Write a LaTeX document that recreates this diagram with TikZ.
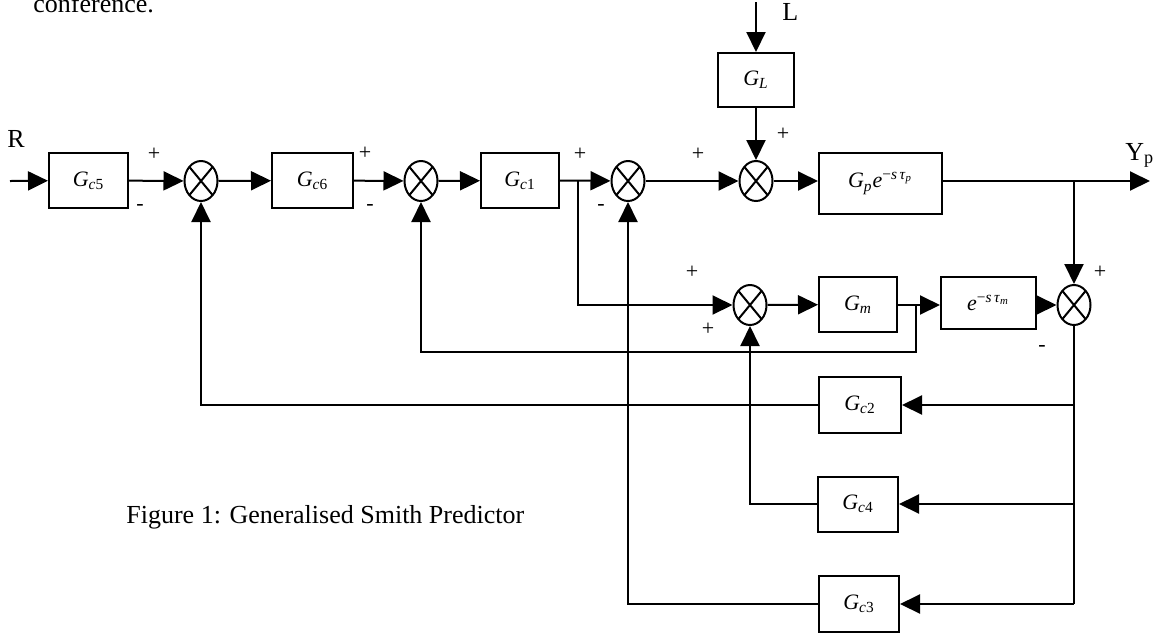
\documentclass[tikz,border=0pt]{standalone}
\usepackage{fontspec}
\setmainfont{Liberation Serif}
\usetikzlibrary{arrows.meta,shapes.geometric}

\tikzstyle{block} = [rectangle, draw, line width=1pt, inner sep=0pt, font=\fontsize{11pt}{13pt}\selectfont]
\tikzstyle{sum} = [ellipse, draw, line width=1pt, inner sep=0pt, minimum width=16.5pt, minimum height=20pt,
  path picture={\draw[line width=1pt] (path picture bounding box.north west) -- (path picture bounding box.south east)
    (path picture bounding box.north east) -- (path picture bounding box.south west);}]
\tikzstyle{sign} = [inner sep=0pt, font=\fontsize{11pt}{13pt}\selectfont]
\tikzstyle{label} = [inner sep=0pt, anchor=base west, font=\fontsize{13pt}{15pt}\selectfont]
\tikzstyle{line} = [line width=1pt, -{Triangle[length=10pt,width=9.5pt]}]

\begin{document}
\begin{tikzpicture}[x=0.5pt, y=-0.5pt]
\useasboundingbox (0,0) rectangle (1153,634);
% forward path
\node [block, minimum width=39.5pt, minimum height=27.5pt] (Gc5) at (88.5,180.5) {\textit{G}\textsubscript{\textit{c}5}};
\node [sum] (S1) at (201,181) {};
\node [block, minimum width=40.5pt, minimum height=27.5pt] (Gc6) at (312.5,180.5) {\textit{G}\textsubscript{\textit{c}6}};
\node [sum] (S2) at (421,181) {};
\node [block, minimum width=39pt, minimum height=27.5pt] (Gc1) at (520,180.5) {\textit{G}\textsubscript{\textit{c}1}};
\node [sum] (S3) at (628,181) {};
\node [sum] (S4) at (756,181) {};
\node [block, minimum width=38pt, minimum height=27pt] (GL) at (756,80) {\textit{G}\textsubscript{\textit{L}}};
\node [block, minimum width=61.5pt, minimum height=30.5pt] (Gp) at (880.5,183.5) {\textit{G}\textsubscript{\textit{p}}\textit{e}\textsuperscript{−\textit{s}\,\textit{τ}\textsubscript{\textit{p}}}};
% model path
\node [sum] (S6) at (750,305) {};
\node [block, minimum width=39pt, minimum height=27.5pt] (Gm) at (858,304.5) {\textit{G}\textsubscript{\textit{m}}};
\node [block, minimum width=47.5pt, minimum height=26pt] (Dm) at (988.5,303) {\textit{e}\textsuperscript{−\textit{s}\,\textit{τ}\textsubscript{\textit{m}}}};
\node [sum] (S5) at (1074,305) {};
% feedback blocks
\node [block, minimum width=41pt, minimum height=28pt] (Gc2) at (860,405) {\textit{G}\textsubscript{\textit{c}2}};
\node [block, minimum width=40pt, minimum height=27.5pt] (Gc4) at (858,504) {\textit{G}\textsubscript{\textit{c}4}};
\node [block, minimum width=40pt, minimum height=28pt] (Gc3) at (859,604) {\textit{G}\textsubscript{\textit{c}3}};
% free ends and branch points
\coordinate (In) at (10,181);
\coordinate (Ltop) at (756,2);
\coordinate (Out) at (1150,181);
\coordinate (B1) at (578,181);
\coordinate (B2) at (1074,181);
\coordinate (B3) at (916,305);
\coordinate (Fm) at (916,352);
\coordinate (B4) at (1074,405);
\coordinate (B5) at (1074,504);
\coordinate (B6) at (1074,604);
% texts
\node [label] (txtconf) at (33,12) {conference.};
\node [label] (txtR) at (7,147) {R};
\node [label] (txtL) at (782,20) {L};
\node [label] (txtY) at (1125,160) {Y\textsubscript{p}};
\node [label] (cap) at (126,523) {Figure 1: Generalised Smith Predictor};
% signs
\node [sign] (p1) at (154,154) {+};
\node [sign] (m1) at (140,207) {-};
\node [sign] (p2) at (365,153) {+};
\node [sign] (m2) at (370,207) {-};
\node [sign] (p3) at (580,154) {+};
\node [sign] (m3) at (601,207) {-};
\node [sign] (p4) at (698,154) {+};
\node [sign] (p5) at (783,134) {+};
\node [sign] (p6) at (692,272) {+};
\node [sign] (p7) at (708,329) {+};
\node [sign] (p8) at (1100,272) {+};
\node [sign] (m8) at (1042,348) {-};
% Paths
\draw[line] (In) -- (Gc5);
\draw[line] (Gc5) -- (S1);
\draw[line] (S1) -- (Gc6);
\draw[line] (Gc6) -- (S2);
\draw[line] (S2) -- (Gc1);
\draw[line] (Gc1.east) -- (S3);
\draw[line] (S3) -- (S4);
\draw[line] (Ltop) -- (GL);
\draw[line] (GL) -- (S4);
\draw[line] (S4) -- (Gp.west |- S4);
\draw[line] (Gp.east |- Out) -- (Out);
\draw[line] (B2) -- (S5);
\draw[line] (B1) |- (S6);
\draw[line] (S6) -- (Gm);
\draw[line] (Gm.east |- B3) -- (Dm.west |- B3);
\draw[line] (Dm.east |- S5) -- (S5);
\draw[line] (B3) -- (Fm) -| (S2.south);
\draw[line width=1pt] (S5.south) -- (B6);
\draw[line] (B4) -- (Gc2.east);
\draw[line] (B5) -- (Gc4.east);
\draw[line] (B6) -- (Gc3.east);
\draw[line] (Gc2.west) -| (S1.south);
\draw[line] (Gc4.west) -| (S6.south);
\draw[line] (Gc3.west) -| (S3.south);
\end{tikzpicture}
\end{document}
